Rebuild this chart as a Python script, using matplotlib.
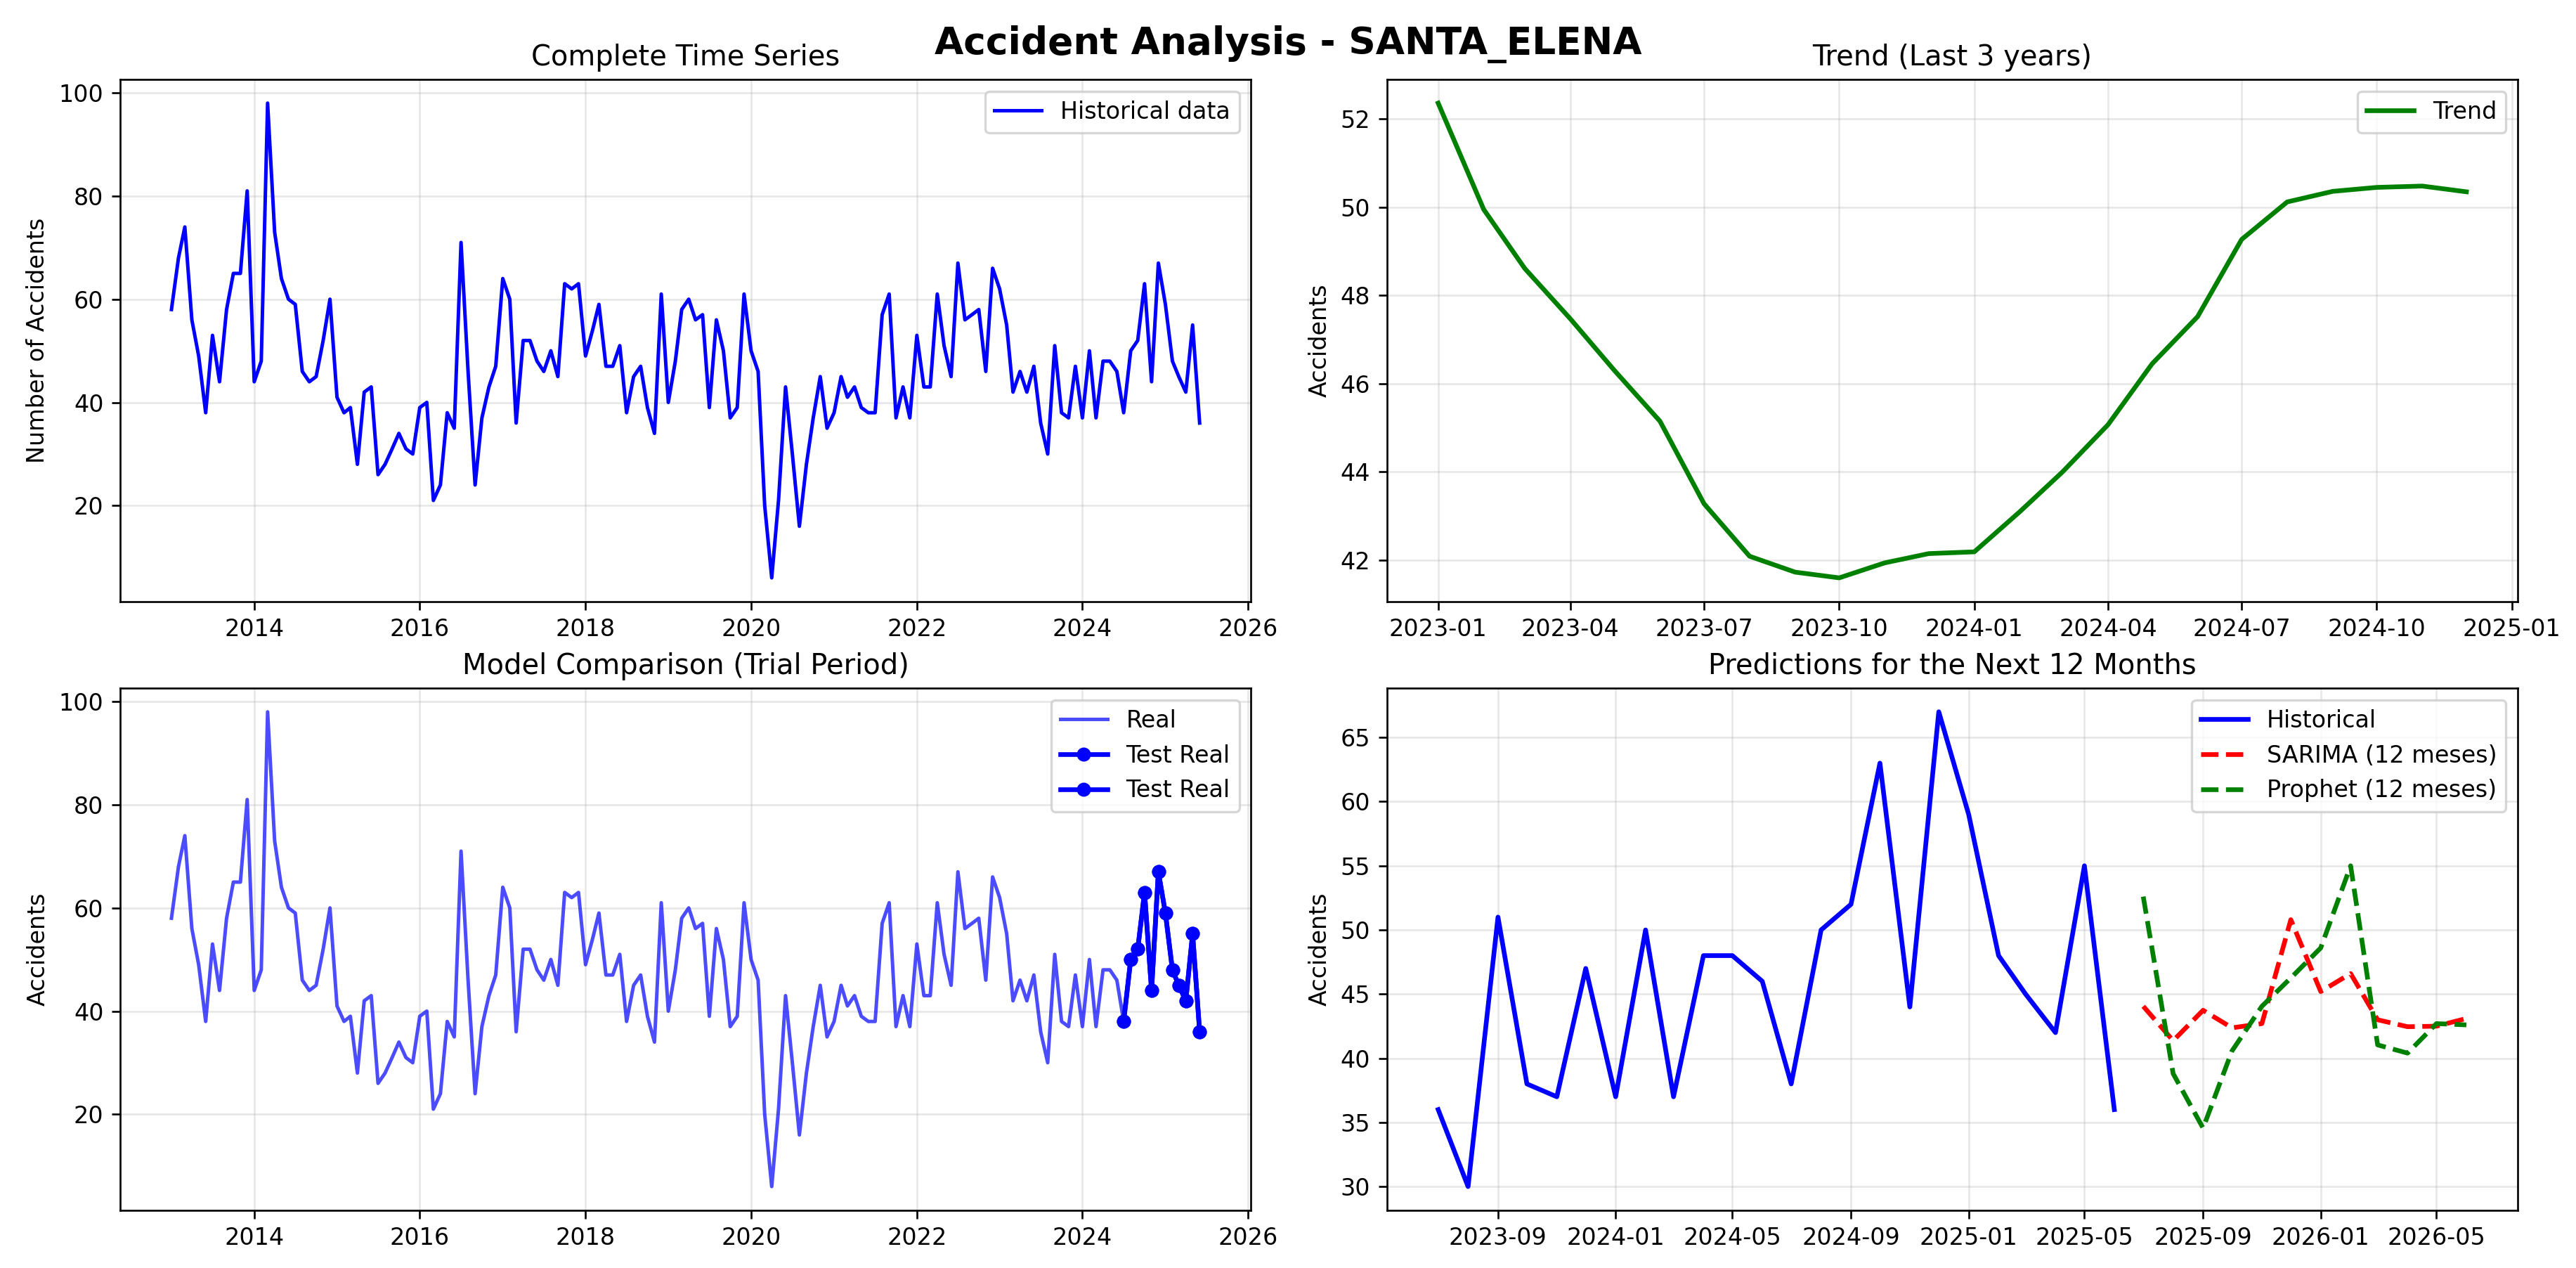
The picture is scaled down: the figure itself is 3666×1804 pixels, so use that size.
import matplotlib
matplotlib.use('Agg')
import matplotlib.pyplot as plt
import pandas as pd

# Monthly accidents, 2013-01 .. 2025-06
accidents = [
    58, 68, 74, 56, 49, 38, 53, 44, 58, 65, 65, 81,
    44, 48, 98, 73, 64, 60, 59, 46, 44, 45, 52, 60,
    41, 38, 39, 28, 42, 43, 26, 28, 31, 34, 31, 30,
    39, 40, 21, 24, 38, 35, 71, 46, 24, 37, 43, 47,
    64, 60, 36, 52, 52, 48, 46, 50, 45, 63, 62, 63,
    49, 54, 59, 47, 47, 51, 38, 45, 47, 39, 34, 61,
    40, 48, 58, 60, 56, 57, 39, 56, 50, 37, 39, 61,
    50, 46, 20, 6, 21, 43, 30, 16, 28, 37, 45, 35,
    38, 45, 41, 43, 39, 38, 38, 57, 61, 37, 43, 37,
    53, 43, 43, 61, 51, 45, 67, 56, 57, 58, 46, 66,
    62, 55, 42, 46, 42, 47, 36, 30, 51, 38, 37, 47,
    37, 50, 37, 48, 48, 46, 38, 50, 52, 63, 44, 67,
    59, 48, 45, 42, 55, 36,
]

# Trend component, 2023-01 .. 2024-12
trend = [
    52.36, 49.95, 48.61, 47.47, 46.30, 45.15, 43.28, 42.09, 41.73, 41.60, 41.94, 42.15,
    42.19, 43.10, 44.00, 45.07, 46.45, 47.52, 49.27, 50.12, 50.36, 50.45, 50.48, 50.35,
]

# Forecasts, 2025-07 .. 2026-06
sarima = [44.05, 41.37, 43.74, 42.37, 42.70, 50.80, 45.20, 46.60, 43.00, 42.46, 42.50, 43.10]
prophet = [52.60, 38.80, 34.56, 40.57, 44.05, 46.26, 48.60, 55.00, 41.04, 40.40, 42.70, 42.60]

dates = pd.date_range('2013-01-01', periods=len(accidents), freq='MS')
series = pd.Series(accidents, index=dates)
trend_dates = pd.date_range('2023-01-01', periods=len(trend), freq='MS')
fc_dates = pd.date_range('2025-07-01', periods=len(sarima), freq='MS')

test = series[-12:]
hist = series[-24:]

DPI = 240
fig, ax = plt.subplots(nrows=2, ncols=2, figsize=(3666 / DPI, 1804 / DPI), dpi=DPI)
plt.subplots_adjust(left=0.0466, right=0.9774, top=0.9374, bottom=0.0455,
                    wspace=0.12, hspace=0.1656)
fig.suptitle('Accident Analysis - SANTA_ELENA', fontsize=16, fontweight='bold')

# Complete series
ax[0, 0].plot(series.index, series.values, color='blue', linewidth=1.5, label='Historical data')
ax[0, 0].set_title('Complete Time Series')
ax[0, 0].set_ylabel('Number of Accidents')
ax[0, 0].legend(loc='upper right')
ax[0, 0].grid(True, alpha=0.3)

# Trend
ax[0, 1].plot(trend_dates, trend, color='green', linewidth=2, label='Trend')
ax[0, 1].set_title('Trend (Last 3 years)')
ax[0, 1].set_ylabel('Accidents')
ax[0, 1].legend(loc='upper right')
ax[0, 1].grid(True, alpha=0.3)

# Model comparison
ax[1, 0].plot(series.index, series.values, color='blue', alpha=0.7, linewidth=1.5, label='Real')
ax[1, 0].plot(test.index, test.values, 'o-', color='blue', linewidth=2, markersize=5, label='Test Real')
ax[1, 0].plot(test.index, test.values, 'o-', color='blue', linewidth=2, markersize=5, label='Test Real')
ax[1, 0].set_title('Model Comparison (Trial Period)')
ax[1, 0].set_ylabel('Accidents')
ax[1, 0].legend(loc='upper right')
ax[1, 0].grid(True, alpha=0.3)

# Predictions
ax[1, 1].plot(hist.index, hist.values, color='blue', linewidth=2, label='Historical')
ax[1, 1].plot(fc_dates, sarima, '--', color='red', linewidth=2, label='SARIMA (12 meses)')
ax[1, 1].plot(fc_dates, prophet, '--', color='green', linewidth=2, label='Prophet (12 meses)')
ax[1, 1].set_title('Predictions for the Next 12 Months')
ax[1, 1].set_ylabel('Accidents')
ax[1, 1].legend(loc='upper right')
ax[1, 1].grid(True, alpha=0.3)

plt.savefig('out.png', dpi=DPI)
